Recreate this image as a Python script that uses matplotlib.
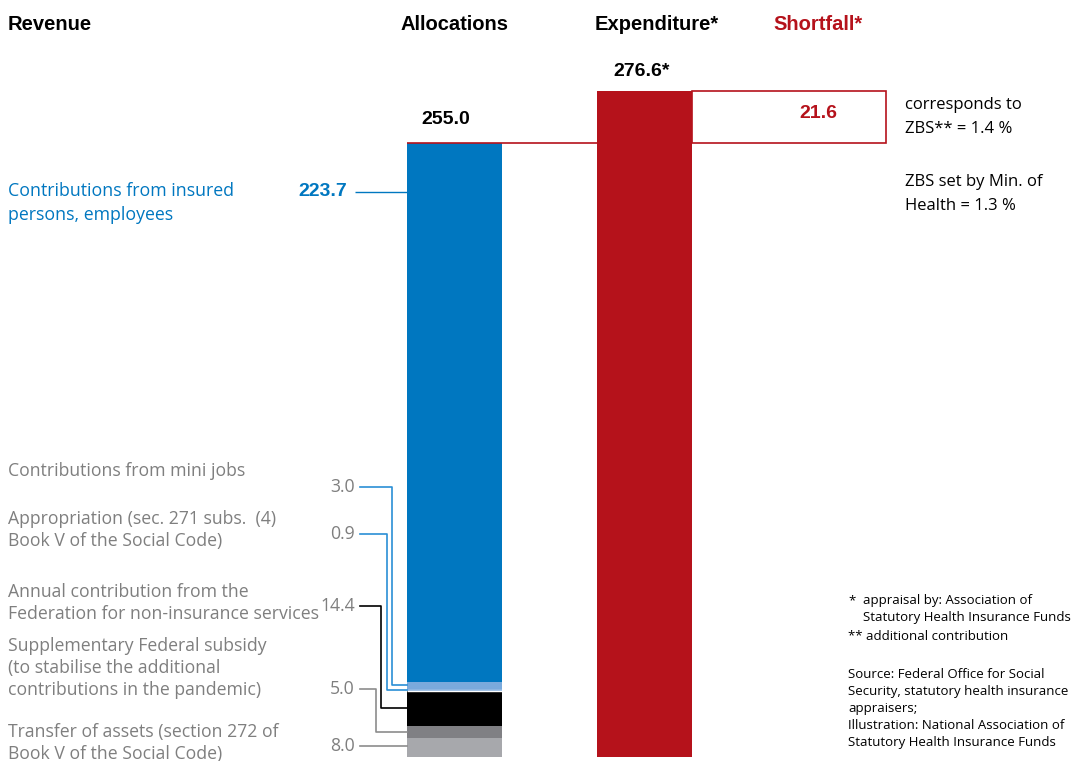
import matplotlib.pyplot as plt
from matplotlib import font_manager

# values in EUR bn
segment_labels = ['Transfer of assets (section 272 of\nBook V of the Social Code)',
                  'Supplementary Federal subsidy\n(to stabilise the additional\ncontributions in the pandemic)',
                  'Annual contribution from the\nFederation for non-insurance services',
                  'Appropriation (sec. 271 subs.  (4)\nBook V of the Social Code)',
                  'Contributions from mini jobs',
                  'Contributions from insured\npersons, employees']
segment_values = [8.0, 5.0, 14.4, 0.9, 3.0, 223.7]
segment_colors = ['#a7a8ac', '#808084', '#000000', '#8db5e0', '#7aaadc', '#0077c0']
allocations = 255.0
expenditure = 276.6
shortfall = 21.6

names = {f.name for f in font_manager.fontManager.ttflist}
head_font = 'Liberation Sans Narrow' if 'Liberation Sans Narrow' in names else 'Liberation Sans'
body_font = 'Open Sans'
plt.rcParams['font.family'] = [body_font, 'DejaVu Sans']

RED = '#b5121b'
BLUE = '#0077c0'
GRAY = '#7f7f7f'

W, H = 1083, 761
ppu = 2.408          # pixels per bn
base = 757           # pixel row of the zero line
fig = plt.figure(figsize=(W / 100, H / 100), dpi=100)
ax = fig.add_axes([0, 0, 1, 1])
ax.set_xlim(0, W)
ax.set_ylim(-(H - base) / ppu, base / ppu)
ax.axis('off')


def py(p):
    # pixel row -> data value
    return (base - p) / ppu


# allocations stacked bar
x_alloc, x_exp, bw = 454.5, 644.5, 95
bottom = 0
mids = []
for v, c in zip(segment_values, segment_colors):
    ax.bar(x_alloc, v, bw, bottom=bottom, color=c, linewidth=0)
    mids.append(bottom + v / 2)
    bottom += v
ax.hlines(segment_values[0] + segment_values[1] + segment_values[2], x_alloc - bw / 2,
          x_alloc + bw / 2, color='white', lw=1)

# expenditure and shortfall
ax.bar(x_exp, expenditure, bw, color=RED, linewidth=0)
ax.hlines(allocations, x_alloc - bw / 2, x_exp - bw / 2, color=RED, lw=1.2, zorder=3)
ax.bar(789, shortfall, 194, bottom=allocations, fill=False, edgecolor=RED, lw=1.2)

# headers
hk = dict(fontsize=14.5, fontweight='bold', family=head_font, va='center')
ax.text(8, py(24), 'Revenue', ha='left', **hk)
ax.text(x_alloc, py(24), 'Allocations', ha='center', **hk)
ax.text(x_exp + 12, py(24), 'Expenditure*', ha='center', **hk)
ax.text(818, py(24), 'Shortfall*', ha='center', color=RED, **hk)

vk = dict(fontsize=14, fontweight='bold', family=head_font, va='center', ha='center')
ax.text(446, py(119), f'{allocations:.1f}', **vk)
ax.text(x_exp - 3, py(71), f'{expenditure:.1f}*', **vk)
ax.text(818, py(113), f'{shortfall:.1f}', color=RED, **vk)

# right-hand notes
ax.text(905, py(117), 'corresponds to\nZBS** = 1.4 %', fontsize=12, va='center',
        linespacing=1.6)
ax.text(905, py(194), 'ZBS set by Min. of\nHealth = 1.3 %', fontsize=12, va='center',
        linespacing=1.6)

# top segment label
ax.text(8, py(203), segment_labels[5], color=BLUE, fontsize=12.8, va='center',
        linespacing=1.45)
ax.text(347, py(192), f'{segment_values[5]:.1f}', color=BLUE, fontsize=14,
        fontweight='bold', family=head_font, ha='right', va='center')
ax.hlines(py(192), 355, x_alloc - bw / 2, color=BLUE, lw=1)

# small segment labels with elbow connectors
label_rows = [743, 668, 603, 530, 471]
value_rows = [746, 689, 606, 534, 487]
elbow_x = [None, 376, 381, 387, 392]
line_colors = ['#8c8c8c', '#8c8c8c', '#000000', '#2a8fd6', '#2a8fd6']
for i in range(5):
    ax.text(8, py(label_rows[i]), segment_labels[i], color=GRAY, fontsize=12.7,
            va='center', linespacing=1.32)
    ax.text(355, py(value_rows[i]), f'{segment_values[i]:.1f}', color=GRAY,
            fontsize=12.7, ha='right', va='center')
    yv = py(value_rows[i])
    if elbow_x[i] is None:
        ax.plot([360, x_alloc - bw / 2], [yv, yv], color=line_colors[i], lw=1.2)
    else:
        ax.plot([360, elbow_x[i], elbow_x[i], x_alloc - bw / 2],
                [yv, yv, mids[i], mids[i]], color=line_colors[i], lw=1.2)

# footnotes
fk = dict(fontsize=9.5, va='top', linespacing=1.4)
ax.text(848, py(594), '*', **fk)
ax.text(863, py(594), 'appraisal by: Association of\nStatutory Health Insurance Funds', **fk)
ax.text(848, py(630), '** additional contribution', **fk)
ax.text(848, py(668), 'Source: Federal Office for Social\nSecurity, statutory health insurance\n'
        'appraisers;\nIllustration: National Association of\nStatutory Health Insurance Funds', **fk)

fig.savefig('out.png', dpi=100, facecolor='white')
